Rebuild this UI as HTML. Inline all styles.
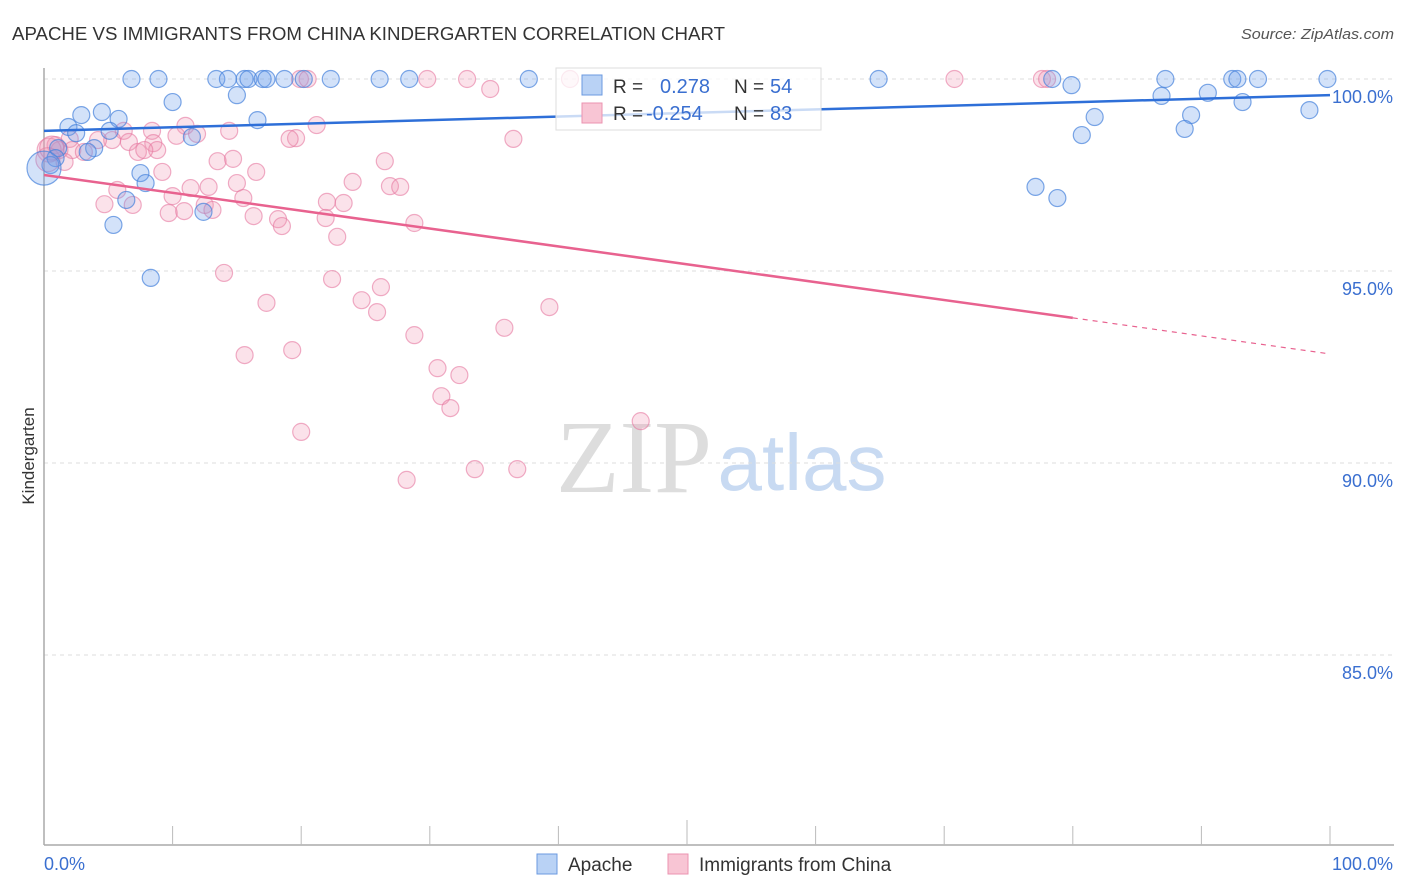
<!DOCTYPE html>
<html><head><meta charset="utf-8"><style>
body{margin:0;background:#fff;font-family:"Liberation Sans",sans-serif;}
svg{display:block}
</style></head><body>
<svg id="chart" width="1406" height="892" xmlns="http://www.w3.org/2000/svg">
<text x="12" y="40" font-size="18" fill="#333" textLength="713" lengthAdjust="spacingAndGlyphs">APACHE VS IMMIGRANTS FROM CHINA KINDERGARTEN CORRELATION CHART</text>
<text x="1394" y="39" font-size="15" fill="#555" font-style="italic" text-anchor="end" textLength="153" lengthAdjust="spacingAndGlyphs">Source: ZipAtlas.com</text>
<text x="34" y="456" font-size="17" fill="#333" text-anchor="middle" transform="rotate(-90 34 456)">Kindergarten</text>
<g><text x="634" y="492" font-size="104" fill="#ddd" font-family="Liberation Serif,serif" text-anchor="middle">ZIP</text><text x="802" y="490" font-size="80" fill="#c8daf2" text-anchor="middle">atlas</text></g>
<g id="grid"></g><g id="axes"></g><g id="marks"></g><g id="lines"></g>
<g>
<rect x="556" y="68" width="265" height="62" fill="#fff" fill-opacity="0.75" stroke="#ddd"/>
<rect x="582" y="75" width="20" height="20" fill="#b9d2f5" stroke="#6b9ae0"/>
<rect x="582" y="103" width="20" height="20" fill="#f8c5d4" stroke="#eb93b0"/>
<text x="613" y="93" font-size="19" fill="#333">R =</text><text x="660" y="93" font-size="20" fill="#3a6fd0">0.278</text>
<text x="734" y="93" font-size="19" fill="#333">N =</text><text x="770" y="93" font-size="20" fill="#3a6fd0">54</text>
<text x="613" y="120" font-size="19" fill="#333">R =</text><text x="646" y="120" font-size="20" fill="#3a6fd0">-0.254</text>
<text x="734" y="120" font-size="19" fill="#333">N =</text><text x="770" y="120" font-size="20" fill="#3a6fd0">83</text>
</g>
<g>
<rect x="537" y="854" width="20" height="20" fill="#b9d2f5" stroke="#6b9ae0"/>
<text x="568" y="871" font-size="19" fill="#333">Apache</text>
<rect x="668" y="854" width="20" height="20" fill="#f8c5d4" stroke="#eb93b0"/>
<text x="699" y="871" font-size="19" fill="#333">Immigrants from China</text>
</g>
<text x="44" y="870" font-size="18" fill="#3a6fd0">0.0%</text>
<text x="1393" y="870" font-size="18" fill="#3a6fd0" text-anchor="end">100.0%</text>
</svg>
<script>
const yTicks=[100,95,90,85];
const yTickLabels=["100.0%","95.0%","90.0%","85.0%"];
const apacheX=[6.8,8.9,13.4,14.3,15.6,15.9,17.0,17.3,18.7,20.2,22.3,26.1,28.4,37.7,64.9,78.4,79.9,87.2,92.4,92.8,94.4,99.8,10.0,15.0,4.5,2.9,1.9,5.8,2.5,16.6,11.5,5.1,3.9,3.4,1.1,0.9,0.5,0,7.5,7.9,6.4,12.4,5.4,8.3,86.9,90.5,93.2,98.4,89.2,81.7,80.7,88.7,77.1,78.8];
const apacheY=[100,100,100,100,100,100,100,100,100,100,100,100,100,100,100,100,99.84,100,100,100,100,100,99.4,99.58,99.14,99.06,98.75,98.96,98.59,98.93,98.49,98.65,98.2,98.1,98.2,97.94,97.76,97.68,97.55,97.29,96.85,96.54,96.2,94.82,99.56,99.64,99.4,99.19,99.06,99.01,98.54,98.7,97.19,96.9];
const chinaX=[19.9,20.5,29.8,32.9,40.9,70.8,77.6,78.0,34.7,11.0,21.2,19.6,19.1,11.9,10.3,14.4,8.4,6.2,36.5,8.5,6.6,5.3,2.0,4.2,0.9,1.2,2.2,3.1,1.6,7.3,8.8,7.8,13.5,14.7,26.5,9.2,16.5,11.4,12.8,15.0,24.0,26.9,27.7,5.7,10.0,15.5,22.0,23.3,4.7,6.9,9.7,10.9,12.5,13.1,16.3,18.2,18.5,21.9,22.8,28.8,14.0,22.4,26.2,17.3,24.7,25.9,35.8,39.3,28.8,15.6,19.3,30.6,32.3,30.9,31.6,46.4,20.0,33.5,36.8,28.2,0.4,0.3,0.6];
const chinaY=[100,100,100,100,100,100,100,100,99.74,98.78,98.8,98.46,98.44,98.57,98.52,98.65,98.65,98.65,98.44,98.33,98.36,98.41,98.44,98.41,98.28,98.15,98.15,98.1,97.84,98.1,98.15,98.15,97.86,97.92,97.86,97.58,97.58,97.16,97.19,97.29,97.32,97.21,97.19,97.11,96.95,96.9,96.8,96.77,96.74,96.72,96.51,96.56,96.72,96.59,96.43,96.35,96.17,96.38,95.89,96.25,94.95,94.79,94.58,94.17,94.24,93.93,93.52,94.06,93.33,92.81,92.94,92.47,92.29,91.74,91.43,91.09,90.81,89.84,89.84,89.56,98.15,97.9,98.2];
const apacheTrend=[[0,98.65],[100,99.58]];
const chinaTrend=[[0,97.5],[80,93.78],[100,92.84]];
const NS="http://www.w3.org/2000/svg";
const sx=v=>44+v*12.86, sy=v=>79+(100-v)*38.4;
function mk(tag,attrs,parent){const e=document.createElementNS(NS,tag);for(const k in attrs)e.setAttribute(k,attrs[k]);document.getElementById(parent).appendChild(e);return e;}
yTicks.forEach((t,i)=>{
  const g=mk('line',{x1:44,x2:1394,y1:sy(t),y2:sy(t),stroke:'#ddd','stroke-dasharray':'4,4'},'grid');
  
  
  const l=mk('text',{x:1393,y:sy(t)+24,'font-size':18,fill:'#3a6fd0','text-anchor':'end'},'grid');
  l.textContent=yTickLabels[i];
  
  
});
const ax=mk('line',{x1:44,x2:44,y1:68,y2:845,stroke:'#aaa','stroke-width':1.5},'axes');


const bx=mk('line',{x1:44,x2:1394,y1:845,y2:845,stroke:'#aaa','stroke-width':1.5},'axes');


for(let i=1;i<=10;i++){
  const t=mk('line',{x1:sx(i*10),x2:sx(i*10),y1:i==5?820:826,y2:845,stroke:'#bbb'},'axes');
  
  
}
function dots(xs,ys,fill,stroke,name){
  xs.forEach((x,i)=>{
    let r=8.5; if(name=='apache-point'&&x===0)r=17; if(name=='china-point'&&i>=80)r=12;
    const c=mk('circle',{cx:sx(x),cy:sy(ys[i]),r:r,fill:fill,stroke:stroke,'stroke-width':1.2},'marks');
    
    
  });
}
dots(chinaX,chinaY,'rgba(242,150,180,0.28)','rgba(230,120,160,0.6)','china-point');
dots(apacheX,apacheY,'rgba(110,160,235,0.3)','rgba(70,130,220,0.7)','apache-point');
const bl=mk('line',{x1:sx(apacheTrend[0][0]),y1:sy(apacheTrend[0][1]),x2:sx(apacheTrend[1][0]),y2:sy(apacheTrend[1][1]),stroke:'#2e6fd8','stroke-width':2.5},'lines');


const pl=mk('line',{x1:sx(chinaTrend[0][0]),y1:sy(chinaTrend[0][1]),x2:sx(chinaTrend[1][0]),y2:sy(chinaTrend[1][1]),stroke:'#e8628f','stroke-width':2.5},'lines');


const pd=mk('line',{x1:sx(chinaTrend[1][0]),y1:sy(chinaTrend[1][1]),x2:sx(chinaTrend[2][0]),y2:sy(chinaTrend[2][1]),stroke:'#e8628f','stroke-width':1.2,'stroke-dasharray':'5,5'},'lines');


</script>
</body></html>
